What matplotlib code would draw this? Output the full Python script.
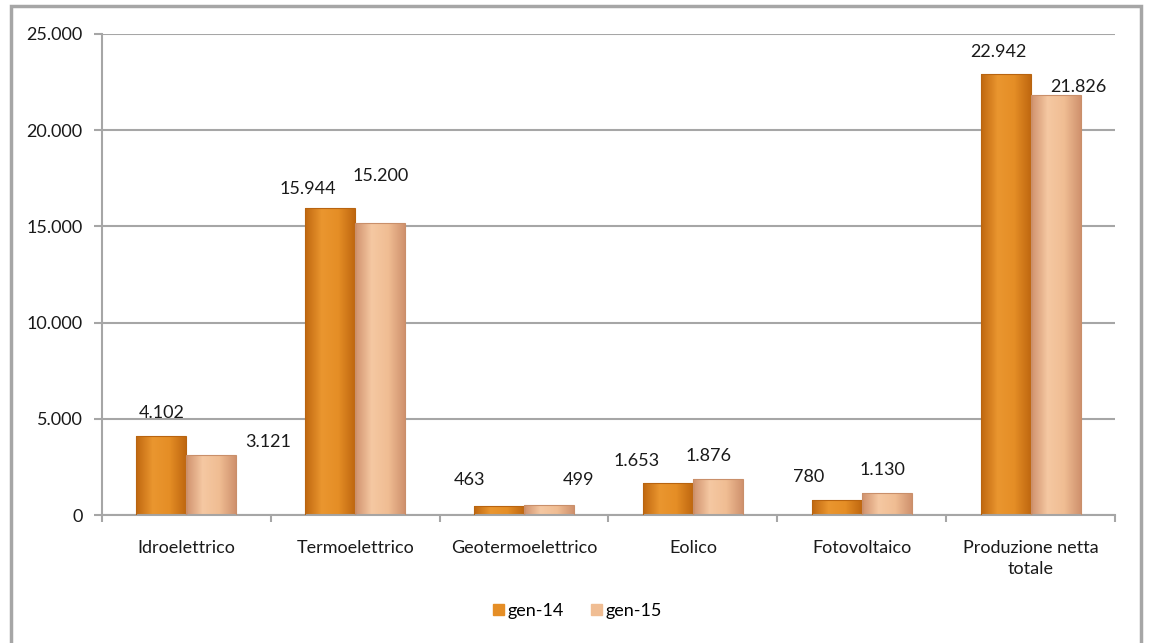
import matplotlib.pyplot as plt
import numpy as np
from matplotlib.colors import LinearSegmentedColormap
from matplotlib.patches import Rectangle

categories = ["Idroelettrico", "Termoelettrico", "Geotermoelettrico", "Eolico",
              "Fotovoltaico", "Produzione netta\ntotale"]
gen14 = [4102, 15944, 463, 1653, 780, 22942]
gen15 = [3121, 15200, 499, 1876, 1130, 21826]
series_names = ["gen-14", "gen-15"]
yticks = [0, 5000, 10000, 15000, 20000, 25000]

# label offsets in pixels from the bar top (Excel had them dragged around)
off14 = [(0, 23), (-22, 19), (-30, 26), (-31, 22), (-28, 23), (-7, 22)]
off15 = [(57, 13), (0, 47), (29, 25), (-9, 23), (-4, 23), (23, 8)]

plt.rcParams['font.family'] = ['Lato', 'DejaVu Sans']
FS = 13

fig = plt.figure(figsize=(11.55, 6.43), dpi=100)
ax = fig.add_axes([102/1155, 1-515/643, (1115-102)/1155, (515-34)/643])

# outer chart frame
fig.patches.append(Rectangle((11/1155, -0.05), (1141-11)/1155, 1.05-6/643,
                             transform=fig.transFigure, fill=False,
                             edgecolor='#a6a6a6', linewidth=2.5))

x = np.arange(len(categories))
w = 0.296

cm14 = LinearSegmentedColormap.from_list('o', ['#c06810', '#ea962f', '#e58e26', '#c06810'])
cm15 = LinearSegmentedColormap.from_list('p', ['#d0926e', '#f5c8a2', '#f0bd93', '#d0926e'])
grad = np.linspace(0, 1, 64).reshape(1, -1)


def draw_bars(xs, vals, cmap, edge, offs):
    bars = ax.bar(xs, vals, w, color='none', edgecolor=edge, linewidth=0.8, zorder=3)
    for b, v, o in zip(bars, vals, offs):
        im = ax.imshow(grad, cmap=cmap, aspect='auto', zorder=2.5,
                       extent=[b.get_x(), b.get_x() + b.get_width(), 0, v])
        im.set_clip_path(b)
        ax.annotate(f"{v:,}".replace(",", "."), (b.get_x() + b.get_width()/2, v),
                    xytext=o, textcoords='offset pixels', ha='center', va='center',
                    fontsize=FS, color='#1a1a1a')
    return bars


draw_bars(x - w/2, gen14, cm14, '#b86410', off14)
draw_bars(x + w/2, gen15, cm15, '#c98f6a', off15)

ax.set_xlim(-0.5, len(categories) - 0.5)
ax.set_ylim(0, 25000)
ax.set_yticks(yticks)
ax.set_yticklabels([f"{t:,}".replace(",", ".") for t in yticks], fontsize=FS, color='#1a1a1a')
ax.set_xticks(x)
ax.set_xticklabels(categories, fontsize=FS, color='#1a1a1a', linespacing=1.35)
ax.set_xticks(np.arange(len(categories) + 1) - 0.5, minor=True)
ax.tick_params(axis='x', which='major', length=0, pad=18)
ax.tick_params(axis='x', which='minor', length=5, width=1.5, color='#a6a6a6')
ax.tick_params(axis='y', length=6, width=1.5, color='#a6a6a6', pad=8)
ax.yaxis.grid(True, color='#a6a6a6', linewidth=1.5, zorder=0)
ax.set_axisbelow(True)
for s in ['top', 'right']:
    ax.spines[s].set_visible(False)
for s in ['left', 'bottom']:
    ax.spines[s].set_color('#a6a6a6')
    ax.spines[s].set_linewidth(1.5)

handles = [Rectangle((0, 0), 1, 1, color='#e58e26'), Rectangle((0, 0), 1, 1, color='#f0bd93')]
fig.legend(handles, series_names, loc='center', bbox_to_anchor=(0.5, 1-611/643),
           ncol=2, frameon=False, fontsize=FS, handlelength=0.6, handleheight=0.6,
           handletextpad=0.2, columnspacing=1.5)

fig.savefig("out.png", dpi=100)
